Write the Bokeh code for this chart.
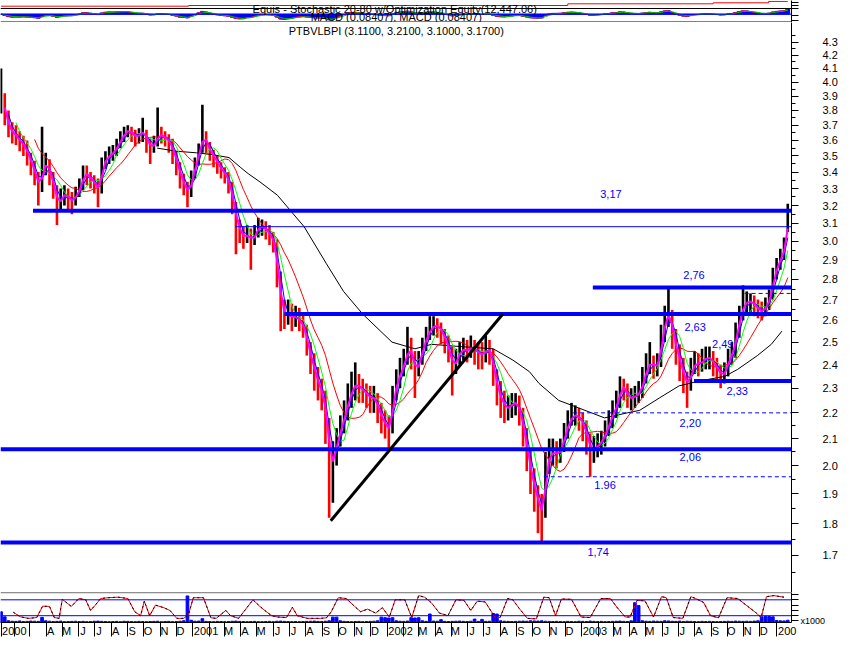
import pandas as pd
from datetime import date
from bokeh.plotting import figure
from bokeh.layouts import column
from bokeh.models import Range1d, FixedTicker, PrintfTickFormatter, Span, Label, ColumnDataSource
from bokeh.embed import file_html
from bokeh.resources import INLINE

FONT = "Liberation Sans"

# ---------------- data (weekly bars) ----------------
close = [3.88,3.76,3.68,3.64,3.63,3.58,3.57,3.50,3.45,3.38,
         3.30,3.42,3.46,3.38,3.30,3.20,3.25,3.27,3.24,3.22,
         3.27,3.30,3.40,3.38,3.35,3.33,3.28,3.45,3.48,3.51,
         3.52,3.57,3.61,3.65,3.67,3.64,3.62,3.64,3.66,3.59,
         3.55,3.58,3.64,3.63,3.61,3.59,3.52,3.45,3.36,3.32,
         3.26,3.37,3.45,3.54,3.64,3.57,3.52,3.49,3.44,3.41,
         3.38,3.33,3.21,3.10,3.05,3.01,3.05,2.99,3.05,3.08,
         3.08,3.06,3.03,2.99,2.82,2.66,2.62,2.63,2.61,2.62,
         2.59,2.57,2.48,2.42,2.36,2.31,2.27,2.18,2.00,2.03,
         2.10,2.14,2.20,2.25,2.30,2.32,2.30,2.29,2.27,2.26,
         2.26,2.21,2.17,2.15,2.13,2.27,2.33,2.37,2.41,2.48,
         2.44,2.36,2.42,2.48,2.53,2.56,2.58,2.57,2.55,2.50,
         2.46,2.38,2.43,2.46,2.47,2.46,2.48,2.46,2.45,2.44,
         2.47,2.46,2.36,2.29,2.25,2.22,2.22,2.24,2.24,2.20,
         2.12,2.04,1.96,1.91,1.86,1.83,2.00,2.04,2.05,2.04,
         2.06,2.12,2.16,2.19,2.19,2.18,2.15,2.10,2.05,2.06,
         2.08,2.09,2.13,2.16,2.21,2.23,2.31,2.30,2.26,2.26,
         2.27,2.28,2.33,2.39,2.41,2.39,2.40,2.52,2.61,2.64,
         2.52,2.46,2.40,2.34,2.31,2.38,2.41,2.40,2.42,2.43,
         2.43,2.40,2.38,2.35,2.37,2.43,2.45,2.54,2.62,2.68,
         2.69,2.69,2.67,2.65,2.64,2.67,2.71,2.82,2.87,2.92,
         2.97,3.17]
high = [4.10,3.92,3.80,3.72,3.70,3.66,3.63,3.60,3.52,3.47,
        3.40,3.69,3.52,3.48,3.40,3.32,3.30,3.32,3.30,3.28,
        3.31,3.36,3.44,3.44,3.40,3.38,3.36,3.49,3.53,3.56,
        3.57,3.61,3.66,3.69,3.70,3.69,3.67,3.68,3.75,3.67,
        3.61,3.63,3.82,3.69,3.66,3.64,3.61,3.53,3.46,3.39,
        3.34,3.41,3.49,3.58,3.84,3.66,3.59,3.54,3.50,3.46,
        3.43,3.40,3.34,3.22,3.12,3.08,3.09,3.07,3.09,3.13,
        3.12,3.11,3.09,3.05,3.01,2.84,2.70,2.70,2.68,2.67,
        2.66,2.63,2.58,2.50,2.45,2.39,2.34,2.29,2.18,2.09,
        2.14,2.19,2.25,2.32,2.37,2.41,2.36,2.34,2.32,2.31,
        2.31,2.28,2.24,2.21,2.19,2.31,2.38,2.43,2.47,2.57,
        2.52,2.46,2.46,2.52,2.57,2.62,2.62,2.61,2.59,2.56,
        2.53,2.48,2.47,2.50,2.52,2.51,2.53,2.51,2.50,2.50,
        2.53,2.51,2.47,2.38,2.33,2.29,2.27,2.28,2.28,2.27,
        2.22,2.14,2.06,1.99,1.93,1.90,2.05,2.10,2.10,2.09,
        2.10,2.16,2.21,2.24,2.23,2.22,2.20,2.17,2.12,2.11,
        2.12,2.13,2.17,2.21,2.25,2.29,2.35,2.34,2.32,2.30,
        2.31,2.33,2.39,2.45,2.50,2.44,2.45,2.58,2.67,2.76,
        2.65,2.56,2.49,2.43,2.37,2.43,2.46,2.45,2.47,2.48,
        2.48,2.46,2.43,2.40,2.41,2.47,2.50,2.59,2.67,2.77,
        2.74,2.73,2.72,2.70,2.69,2.71,2.75,2.86,2.91,2.96,
        3.02,3.21]
low = [3.78,3.70,3.62,3.58,3.57,3.53,3.50,3.44,3.38,3.32,
       3.20,3.28,3.38,3.32,3.24,3.09,3.17,3.20,3.18,3.15,
       3.20,3.25,3.29,3.32,3.30,3.27,3.19,3.27,3.42,3.45,
       3.47,3.50,3.55,3.59,3.62,3.59,3.56,3.58,3.59,3.52,
       3.45,3.52,3.56,3.58,3.56,3.52,3.45,3.38,3.30,3.26,
       3.19,3.25,3.36,3.44,3.52,3.51,3.47,3.43,3.39,3.36,
       3.33,3.27,3.15,2.93,2.99,2.96,2.99,2.85,2.98,3.02,
       3.03,3.01,2.98,2.94,2.76,2.55,2.56,2.58,2.55,2.57,
       2.55,2.52,2.44,2.36,2.29,2.25,2.21,2.08,1.82,1.87,
       2.00,2.07,2.12,2.17,2.22,2.25,2.24,2.24,2.22,2.20,
       2.20,2.16,2.12,2.10,2.06,2.12,2.25,2.30,2.35,2.40,
       2.38,2.26,2.35,2.40,2.46,2.51,2.53,2.52,2.49,2.45,
       2.41,2.27,2.36,2.40,2.42,2.41,2.43,2.40,2.38,2.38,
       2.41,2.40,2.31,2.23,2.18,2.16,2.17,2.18,2.19,2.15,
       2.07,1.98,1.90,1.84,1.77,1.74,1.82,1.97,2.00,1.99,
       2.01,2.05,2.10,2.15,2.15,2.13,2.09,2.04,1.96,2.01,
       2.03,2.04,2.07,2.11,2.14,2.18,2.22,2.25,2.22,2.21,
       2.22,2.24,2.26,2.32,2.36,2.34,2.35,2.39,2.50,2.57,
       2.47,2.40,2.33,2.28,2.22,2.29,2.36,2.35,2.37,2.38,
       2.38,2.35,2.33,2.30,2.32,2.35,2.40,2.43,2.52,2.60,
       2.64,2.64,2.62,2.61,2.60,2.62,2.65,2.70,2.80,2.85,
       2.90,3.05]
volume = [380,200,60,45,40,55,35,40,50,45,
          40,180,60,45,35,40,50,30,35,40,
          45,35,40,30,35,45,50,40,35,30,
          35,40,30,45,40,35,30,40,35,30,
          35,40,45,30,35,40,30,35,45,60,
          940,80,45,50,135,40,35,30,40,35,
          30,35,45,50,40,35,30,35,40,30,
          30,35,40,30,45,50,40,35,30,35,
          30,35,40,45,50,40,35,45,60,190,
          190,60,40,35,30,35,40,30,35,40,
          45,60,190,170,160,170,60,45,40,50,
          170,160,170,60,40,300,50,45,100,40,
          35,40,45,50,40,35,45,120,40,110,
          40,45,320,300,60,45,40,35,40,45,
          50,45,60,55,50,60,45,40,35,40,
          35,30,40,35,30,45,40,35,50,40,
          35,40,30,35,40,45,50,40,35,60,
          700,600,60,45,40,50,45,40,60,55,
          45,40,50,35,45,40,35,30,40,35,
          40,35,30,35,40,45,40,50,45,40,
          45,40,50,60,200,220,210,200,70,60,
          55,80]

# long moving average (black): day number, price
long_ma_day = [299, 336, 373, 400, 434, 455, 470, 492, 525, 575, 617, 649, 685, 740, 783, 814,
               869, 930, 967, 998, 1016, 1053, 1090, 1139, 1182, 1205, 1242, 1279, 1316, 1365,
               1389, 1426, 1452, 1472]
long_ma_price = [3.55, 3.53, 3.52, 3.51, 3.49, 3.43, 3.39, 3.34, 3.26, 3.08, 2.88, 2.74, 2.63,
                 2.50, 2.47, 2.49, 2.48, 2.47, 2.42, 2.37, 2.32, 2.25, 2.22, 2.18, 2.20, 2.21,
                 2.26, 2.31, 2.33, 2.35, 2.38, 2.44, 2.49, 2.55]

# stochastic oscillator (day number since 2000-01-01, value)
stoch_day = [29,42,57,73,84,97,106,115,121,138,152,165,174,183,193,207,226,244,257,268,
             275,285,296,312,323,336,349,358,367,386,400,410,428,437,452,479,492,501,514,525,
             542,553,562,581,606,617,626,639,654,670,681,694,709,722,735,746,764,777,790,801,
             814,829,845,860,875,888,900,915,933,943,957,967,979,994,1011,1025,1035,1047,1058,1077,
             1095,1112,1132,1150,1163,1178,1187,1200,1215,1231,1246,1255,1268,1286,1301,1310,1325,1338,1353,1369,
             1389,1408,1424,1433,1443,1457,1476]
stoch_value = [33,16,10,13,56,55,13,10,82,55,85,80,40,60,85,88,90,85,35,20,
               75,20,60,50,40,10,10,25,88,88,12,10,40,20,10,80,55,40,20,15,
               13,52,20,10,10,12,35,88,85,55,35,45,30,50,15,80,80,13,96,90,
               69,30,20,80,78,40,75,72,15,13,85,80,47,10,8,90,88,20,83,82,
               15,13,85,85,50,15,15,78,76,15,92,88,13,10,92,85,70,20,12,88,
               85,55,30,13,92,96,90]

# system equity (step line)
equity_day = [6, 358, 1070, 1343, 1447, 1483]
equity_value = [10120, 10460, 11290, 11780, 12447.06, 12447.06]

# horizontal support / resistance levels
thick_levels = [3.17, 2.76, 2.63, 2.33, 2.06, 1.74]
thick_from = [66, 1117, 538, 1307, None, None]
thin_levels = [3.08]
thin_from = [446]
dashed_levels = [2.73, 2.20, 1.96]
dashed_from = [1402, 1080, 1025]
level_labels = ["3,17", "2,76", "2,63", "2,49", "2,33", "2,20", "2,06", "1.96", "1,74"]
level_label_day = [1151, 1307, 1309, 1361, 1388, 1300, 1300, 1140, 1127]
level_label_price = [3.27, 2.82, 2.57, 2.49, 2.29, 2.16, 2.03, 1.93, 1.71]
trend_day = [625, 948]
trend_price = [1.81, 2.63]

price_ticks = [1.7, 1.8, 1.9, 2.0, 2.1, 2.2, 2.3, 2.4, 2.5, 2.6, 2.7, 2.8, 2.9, 3.0,
               3.1, 3.2, 3.3, 3.4, 3.5, 3.6, 3.7, 3.8, 3.9, 4.0, 4.1, 4.2, 4.3]
price_minor = [1.65, 1.75, 1.85, 1.95, 2.05, 2.15, 2.25, 2.35, 2.45, 2.55, 2.65, 2.75, 2.85,
               2.95, 3.05, 3.15, 3.25, 3.35, 3.45, 3.55, 3.65, 3.75, 3.85, 3.95, 4.05, 4.15,
               4.25, 4.35]

axis_labels = [(2000, 1, "2000"), (2000, 4, "A"), (2000, 5, "M"), (2000, 6, "J"), (2000, 7, "J"),
               (2000, 8, "A"), (2000, 9, "S"), (2000, 10, "O"), (2000, 11, "N"), (2000, 12, "D"),
               (2001, 1, "2001"), (2001, 3, "M"), (2001, 4, "A"), (2001, 5, "M"), (2001, 6, "J"),
               (2001, 7, "J"), (2001, 8, "A"), (2001, 9, "S"), (2001, 10, "O"), (2001, 11, "N"),
               (2001, 12, "D"),
               (2002, 1, "2002"), (2002, 3, "M"), (2002, 4, "A"), (2002, 5, "M"), (2002, 6, "J"),
               (2002, 7, "J"), (2002, 8, "A"), (2002, 9, "S"), (2002, 10, "O"), (2002, 11, "N"),
               (2002, 12, "D"),
               (2003, 1, "2003"), (2003, 3, "M"), (2003, 4, "A"), (2003, 5, "M"), (2003, 6, "J"),
               (2003, 7, "J"), (2003, 8, "A"), (2003, 9, "S"), (2003, 10, "O"), (2003, 11, "N"),
               (2003, 12, "D"),
               (2004, 1, "200")]

title_text = "Equis - Stochastic 20-80  w/Optimization Equity(12,447.06)"
macd_text = "MACD (0.08407), MACD (0.08407)"
security_text = "PTBVLBPI (3.1100, 3.2100, 3.1000, 3.1700)"

# ---------------- derived ----------------
X_START, X_END = 5, 1490
n = len(close)
bar_day = [7 * i + 6 for i in range(n)]
bar_color = ["black"] + ["#ff0000" if close[i] < close[i - 1] else "black" for i in range(1, n)]
s = pd.Series(close, dtype=float)
ma_mag = s.rolling(2).mean()
ma_blue = s.rolling(3).mean()
ma_green = s.rolling(5).mean()
ma_red = s.rolling(10).mean()
macd = s.ewm(span=3, adjust=False).mean() - s.ewm(span=6, adjust=False).mean()
signal = macd.ewm(span=3, adjust=False).mean()

src = ColumnDataSource(dict(x=bar_day, hi=high, lo=low, c=close, col=bar_color, vol=volume,
                            m1=ma_mag, m2=ma_blue, m3=ma_green, m4=ma_red,
                            macd=macd, sig=signal))

W = 840
RB = 48
xr = Range1d(X_START, X_END)


def base(height, **kw):
    p = figure(width=W, height=height, x_range=xr, output_backend="svg", toolbar_location=None,
               min_border_left=0, min_border_right=RB, min_border_top=0, min_border_bottom=0,
               outline_line_color=None, background_fill_color="white", border_fill_color="white",
               **kw)
    p.grid.visible = False
    return p


def style_right_axis(ax):
    ax.axis_line_color = "black"
    ax.major_tick_line_color = "black"
    ax.minor_tick_line_color = "black"
    ax.major_tick_in = 0
    ax.minor_tick_in = 0
    ax.major_label_text_font = FONT
    ax.major_label_text_font_size = "11px"
    ax.major_label_text_color = "black"


# ---------------- top panel: equity + MACD ----------------
p_top = base(22, y_range=Range1d(0, 22), x_axis_location=None, y_axis_location="right")
p_top.extra_y_ranges = {"eq": Range1d(2175, 12900), "macd": Range1d(-0.166, 0.274)}
p_top.step(equity_day, equity_value, mode="after", color="#ff0000", line_width=1, y_range_name="eq")
p_top.vbar(x="x", top="macd", bottom=0, width=7, source=src, color="#0000ff", y_range_name="macd")
p_top.line("x", "macd", source=src, color="#ff0000", line_width=1, y_range_name="macd")
p_top.line("x", "sig", source=src, color="#00c000", line_width=1, y_range_name="macd")
p_top.add_layout(Span(location=0, dimension="width", line_color="#0000ff", line_width=1, y_range_name="macd"))
p_top.add_layout(Span(location=14, dimension="width", line_color="black", line_width=1))
p_top.add_layout(Span(location=0.5, dimension="width", line_color="black", line_width=1))
ax = p_top.yaxis[0]
ax.ticker = FixedTicker(ticks=[2, 7, 14, 17, 20])
ax.major_label_overrides = {2: "", 7: "", 14: "", 17: "", 20: ""}
style_right_axis(ax)
ax.major_tick_out = 7
for txt, yy in ((title_text, 13.4), (macd_text, 5.7)):
    p_top.add_layout(Label(x=748, y=yy, text=txt, text_align="center", text_baseline="middle",
                           text_font=FONT, text_font_size="11px", text_color="black"))

# ---------------- main price panel ----------------
p = base(570, y_axis_type="log", y_range=Range1d(1.590, 4.455), x_axis_location=None,
         y_axis_location="right")
for txt, d, pr in zip(level_labels, level_label_day, level_label_price):
    p.add_layout(Label(x=d, y=pr, text=txt, text_align="center", text_baseline="middle",
                       text_font=FONT, text_font_size="11px", text_color="#0000ff"))
p.segment(x0="x", x1="x", y0="lo", y1="hi", color="col", line_width=2.6, source=src)
p.line(long_ma_day, long_ma_price, color="black", line_width=1)
p.line("x", "m4", source=src, color="#ff0000", line_width=1)
p.line("x", "m3", source=src, color="#00ff00", line_width=1)
p.line("x", "m2", source=src, color="#0000ff", line_width=1)
p.line("x", "m1", source=src, color="#ff00ff", line_width=2)
p.segment(x0=[X_START if f is None else f for f in thick_from], x1=X_END,
          y0=thick_levels, y1=thick_levels, color="#0000ff", line_width=4)
p.segment(x0=thin_from, x1=X_END, y0=thin_levels, y1=thin_levels, color="#0000ff", line_width=1)
p.segment(x0=dashed_from, x1=X_END, y0=dashed_levels, y1=dashed_levels, color="#0000ff",
          line_width=1, line_dash="4 3")
p.line(trend_day, trend_price, color="black", line_width=3)
p.add_layout(Label(x=748, y=4.385, text=security_text, text_align="center", text_baseline="middle",
                   text_font=FONT, text_font_size="11px", text_color="black"))
ax = p.yaxis[0]
ax.ticker = FixedTicker(ticks=price_ticks, minor_ticks=price_minor)
ax.formatter = PrintfTickFormatter(format="%.1f")
style_right_axis(ax)
ax.major_tick_out = 7
ax.minor_tick_out = 4
ax.major_label_standoff = 24

# ---------------- bottom panel: stochastic + volume ----------------
p_bot = base(47, y_range=Range1d(-5.7, 107.7), y_axis_location="right")
p_bot.min_border_bottom = 14
p_bot.extra_y_ranges = {"vol": Range1d(0, 1062)}
p_bot.vbar(x="x", top="vol", bottom=0, width=5, source=src, color="#0000ff", y_range_name="vol")
p_bot.add_layout(Span(location=80, dimension="width", line_color="#0000ff", line_width=1))
p_bot.add_layout(Span(location=20, dimension="width", line_color="#0000ff", line_width=1))
p_bot.line(stoch_day, stoch_value, color="#ff0000", line_width=1)
p_bot.line(stoch_day, stoch_value, color="black", line_width=1, line_dash="2 3")
p_bot.add_layout(Span(location=107.2, dimension="width", line_color="black", line_width=1))
ax = p_bot.yaxis[0]
ax.ticker = FixedTicker(ticks=[0, 20, 40, 60, 80, 100])
ax.major_label_overrides = {0: "x1000", 20: "", 40: "", 60: "", 80: "", 100: ""}
style_right_axis(ax)
ax.major_label_text_font_size = "9px"
ax.major_label_standoff = 2
ax.major_tick_out = 7

# month separators and labels on the time axis
origin = date(2000, 1, 1)
month_starts = [6]
for yy in range(2000, 2005):
    for mm in range(1, 13):
        d = (date(yy, mm, 1) - origin).days
        if X_START + 10 < d < X_END:
            month_starts.append(d)
label_pos, label_txt = [], []
for yy, mm, t in axis_labels:
    d = (date(yy, mm, 1) - origin).days
    if d < X_START:
        d = 6
    off = 8 if len(t) == 1 else (21 if len(t) == 3 else 25)
    label_pos.append(d + off)
    label_txt.append(t)
xa = p_bot.xaxis[0]
xa.ticker = FixedTicker(ticks=label_pos, minor_ticks=month_starts)
xa.major_label_overrides = dict(zip(label_pos, label_txt))
xa.axis_line_color = "black"
xa.major_tick_line_color = None
xa.major_tick_out = 0
xa.major_tick_in = 0
xa.minor_tick_line_color = "black"
xa.minor_tick_in = 0
xa.minor_tick_out = 14
xa.major_label_standoff = -12
xa.major_label_text_font = FONT
xa.major_label_text_font_size = "11px"
xa.major_label_text_color = "black"

layout = column(p_top, p, p_bot, spacing=0)
open("out.html", "w").write(file_html(layout, INLINE))
